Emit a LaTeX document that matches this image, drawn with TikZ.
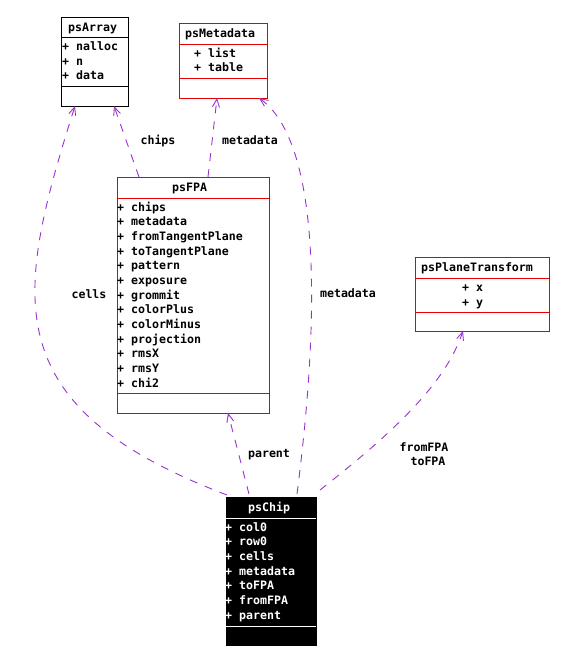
\documentclass[tikz,border=0pt]{standalone}
\usepackage{fontspec}
\setmonofont{DejaVu Sans Mono}
\usetikzlibrary{arrows.meta,calc}
\definecolor{edgecol}{RGB}{153,51,204}
\definecolor{boxred}{RGB}{230,0,0}
\begin{document}
\begin{tikzpicture}[x=1pt,y=-1pt,
  txt/.style={font=\ttfamily\bfseries\fontsize{11.6}{14}\selectfont, inner sep=0pt, text height=9pt, text depth=1pt},
  box/.style={draw, line width=1pt, anchor=north west, inner sep=0pt, outer sep=0pt},
  sep/.style={line width=1pt},
  edge/.style={draw=edgecol, line width=0.9pt, dash pattern=on 8pt off 8pt, -{Straight Barb[length=8pt,width=7pt]}},
  lbl/.style={txt, anchor=center}
]
\useasboundingbox (0,0) rectangle (564,662);

% psArray
\node[box, draw=black, minimum width=67pt, minimum height=89pt] (arr) at (61,17) {};
\draw[sep, black] ([yshift=-20pt]arr.north west) -- ([yshift=-20pt]arr.north east);
\draw[sep, black] ([yshift=-69pt]arr.north west) -- ([yshift=-69pt]arr.north east);
\node[txt, anchor=west] (arrT) at (68,27) {psArray};
\node[txt, anchor=west] (arrA1) at (62,46.5) {+ nalloc};
\node[txt, anchor=west] (arrA2) at (62,61) {+ n};
\node[txt, anchor=west] (arrA3) at (62,75.7) {+ data};

% psMetadata
\node[box, draw=boxred, minimum width=88pt, minimum height=75pt] (meta) at (179,23) {};
\draw[sep, boxred] ([yshift=-21pt]meta.north west) -- ([yshift=-21pt]meta.north east);
\draw[sep, boxred] ([yshift=-55pt]meta.north west) -- ([yshift=-55pt]meta.north east);
\node[txt, anchor=west] (metaT) at (185,33) {psMetadata};
\node[txt, anchor=west] (metaA1) at (194,53) {+ list};
\node[txt, anchor=west] (metaA2) at (194,67.5) {+ table};

% psFPA
\node[box, draw=boxred, minimum width=152pt, minimum height=236pt] (fpa) at (117,177) {};
\draw[sep, boxred] ([yshift=-21pt]fpa.north west) -- ([yshift=-21pt]fpa.north east);
\draw[sep, boxred] ([yshift=-216pt]fpa.north west) -- ([yshift=-216pt]fpa.north east);
\node[txt, anchor=west] (fpaT) at (172,187.5) {psFPA};
\foreach \t [count=\i from 0] in {chips,metadata,fromTangentPlane,toTangentPlane,pattern,exposure,grommit,colorPlus,colorMinus,projection,rmsX,rmsY,chi2}
  \node[txt, anchor=west] (fpaA\i) at (117,207+14.67*\i) {+ \t};

% psPlaneTransform
\node[box, draw=boxred, minimum width=134pt, minimum height=74pt] (pt) at (415,257) {};
\draw[sep, boxred] ([yshift=-21pt]pt.north west) -- ([yshift=-21pt]pt.north east);
\draw[sep, boxred] ([yshift=-55pt]pt.north west) -- ([yshift=-55pt]pt.north east);
\node[txt, anchor=west] (ptT) at (421,267) {psPlaneTransform};
\node[txt, anchor=west] (ptA1) at (462,287.5) {+ x};
\node[txt, anchor=west] (ptA2) at (462,302) {+ y};

% psChip
\node[box, draw=black, fill=black, minimum width=90pt, minimum height=148pt] (chip) at (226,497) {};
\draw[sep, white] ([yshift=-21pt]chip.north west) -- ([yshift=-21pt]chip.north east);
\draw[sep, white] ([yshift=-129pt]chip.north west) -- ([yshift=-129pt]chip.north east);
\node[txt, anchor=west, text=white] (chipT) at (248,507) {psChip};
\foreach \t [count=\i from 0] in {col0,row0,cells,metadata,toFPA,fromFPA,parent}
  \node[txt, anchor=west, text=white] (chipA\i) at (225,527+14.67*\i) {+ \t};

% connectors
\draw[edge] ([xshift=1pt,yshift=2pt]chip.north west) .. controls (-7,406) and (15,296) .. ([xshift=14pt]arr.south west);
\draw[edge] ([xshift=22pt]fpa.north west) -- ([xshift=53pt]arr.south west);
\draw[edge] ([xshift=91pt]fpa.north west) -- ([xshift=38pt]meta.south west);
\draw[edge] ([xshift=71pt,yshift=3pt]chip.north west) .. controls (322,300) and (318,140) .. ([xshift=80pt]meta.south west);
\draw[edge] ([xshift=23pt,yshift=3pt]chip.north west) -- ([xshift=111pt]fpa.south west);
\draw[edge] ([xshift=4pt,yshift=7pt]chip.north east) .. controls (390,435) and (445,385) .. ([xshift=48pt]pt.south west);

% labels
\node[lbl] (lcells) at (89,294) {cells};
\node[lbl] (lchips) at (158,140) {chips};
\node[lbl] (lmeta1) at (250,140) {metadata};
\node[lbl] (lmeta2) at (348,293) {metadata};
\node[lbl] (lparent) at (269,453) {parent};
\node[lbl] (lfrom) at (424,447) {fromFPA};
\node[lbl] (lto) at (428,461.5) {toFPA};
\end{tikzpicture}
\end{document}
